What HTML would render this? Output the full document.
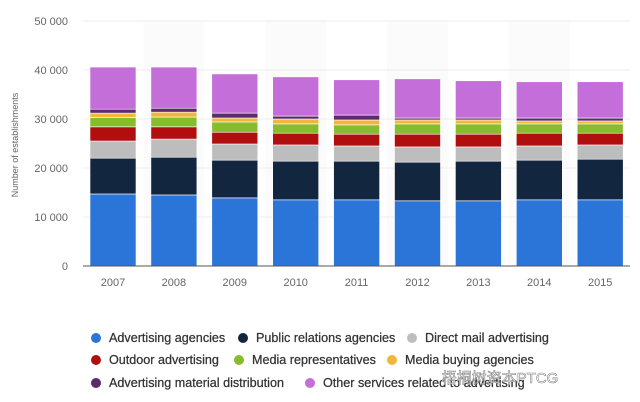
<!DOCTYPE html>
<html><head><meta charset="utf-8"><style>
body{margin:0;background:#fff;width:640px;height:402px;overflow:hidden;font-family:"Liberation Sans","Noto Sans CJK SC",sans-serif}
svg{display:block}
</style></head><body>
<svg width="640" height="402">
<g id="bands"></g><g id="grid"></g><g id="bars"></g><g id="axes"></g><g id="legend"></g>
<text x="18" y="145" transform="rotate(-90 18 145)" text-anchor="middle" font-size="9" fill="#666">Number of establishments</text>
<text x="500" y="383" text-anchor="middle" font-size="15" fill="#fff" stroke="#888" stroke-width="0.6">梧桐树资本PTCG</text>
</svg>
<script>
const years=["2007","2008","2009","2010","2011","2012","2013","2014","2015"];
const seriesNames=["Advertising agencies","Public relations agencies","Direct mail advertising","Outdoor advertising","Media representatives","Media buying agencies","Advertising material distribution","Other services related to advertising"];
const adAgencies=[14700,14500,13900,13500,13500,13300,13300,13500,13500];
const prAgencies=[7300,7700,7700,7900,7900,7900,8100,8100,8300];
const directMail=[3500,3700,3300,3300,3100,3100,2900,2900,2900];
const outdoor=[2900,2500,2400,2400,2400,2600,2600,2600,2400];
const mediaReps=[1900,2000,2100,1900,1900,2100,2100,1900,1900];
const mediaBuying=[900,1000,800,1000,1000,800,800,600,600];
const materialDist=[800,800,1000,600,1000,400,400,600,600];
const otherServices=[8600,8400,8000,8000,7200,8000,7600,7400,7400];
const yTicks=[0,10000,20000,30000,40000,50000];
const colors=["#2b74d8","#13263f","#bdbdbd","#b10f0f","#86bd2e","#f0b73a","#5b2b6b","#c46ed9"];
const series=[adAgencies,prAgencies,directMail,outdoor,mediaReps,mediaBuying,materialDist,otherServices];
const NS="http://www.w3.org/2000/svg";
const y0=266,yTop=21,yMax=50000;
const yScale=v=>y0-(v/yMax)*(y0-yTop);
const x0=83,step=60.9;
const xCenter=i=>113+i*step;
const bw=46;
function mk(tag,attrs,parent){const e=document.createElementNS(NS,tag);for(const k in attrs)e.setAttribute(k,attrs[k]);document.getElementById(parent).appendChild(e);return e;}
years.forEach((y,i)=>{if(i%2===1){const b=mk("rect",{x:xCenter(i)-step/2,y:yTop,width:step,height:y0-yTop,fill:"#fbfbfb"},"bands");

}});
yTicks.forEach(t=>{const yy=yScale(t);
if(t>0){const g=mk("line",{x1:x0,x2:630,y1:yy,y2:yy,stroke:"#eee","stroke-width":1},"grid");

}
const tx=mk("text",{x:68,y:yy+4,"text-anchor":"end","font-size":"11",fill:"#666"},"axes");tx.textContent=t===0?"0":(t/1000)+" 000";

});
years.forEach((yr,i)=>{let cum=0;
series.forEach((s,k)=>{const top=yScale(cum+s[i]),bot=yScale(cum);cum+=s[i];
const r=mk("rect",{x:xCenter(i)-bw/2,y:top,width:bw,height:bot-top,fill:colors[k],stroke:"#fff","stroke-width":0.6},"bars");

});
const tl=mk("text",{x:xCenter(i),y:286,"text-anchor":"middle","font-size":"11",fill:"#666"},"axes");tl.textContent=yr;

});
const ax=mk("line",{x1:x0,x2:630,y1:y0,y2:y0,stroke:"#555","stroke-width":1},"axes");


const legPos=[[96,338],[243,338],[412,338],[96,360],[239,360],[392,360],[96,383],[310,383]];
seriesNames.forEach((n,k)=>{const [lx,ly]=legPos[k];
const c=mk("circle",{cx:lx,cy:ly,r:5,fill:colors[k]},"legend");


const t=mk("text",{x:lx+13,y:ly+4,"font-size":"12.6",fill:"#333",stroke:"#333","stroke-width":"0.25"},"legend");t.textContent=n;

});
</script>
</body></html>
